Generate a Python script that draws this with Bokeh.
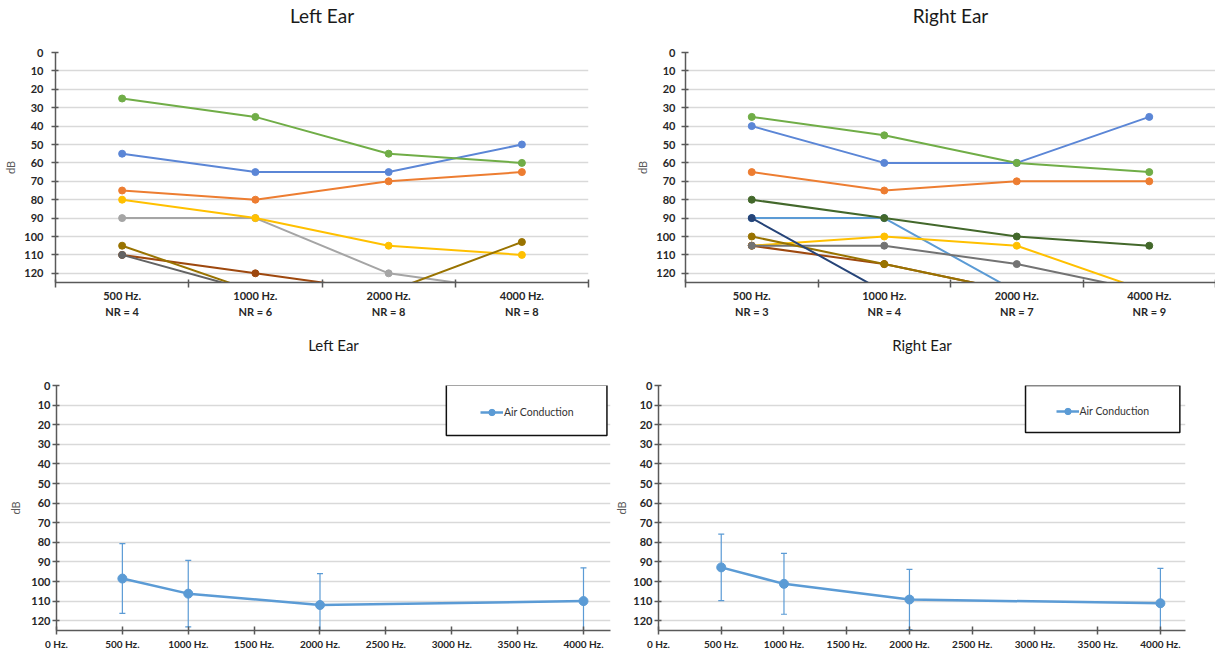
from bokeh.plotting import figure
from bokeh.layouts import column, row
from bokeh.models import Range1d, FixedTicker, BoxAnnotation, Legend, LegendItem
from bokeh.embed import file_html
from bokeh.resources import INLINE

FONT = "Lato"

# ---------------- data ----------------
freq_labels = ["500 Hz.", "1000 Hz.", "2000 Hz.", "4000 Hz."]
left_nr = [4, 6, 8, 8]
right_nr = [3, 4, 7, 9]

# thresholds in dB; 130 = no response (plotted below the visible range)
left_orange = [75, 80, 70, 65]
left_gray = [90, 90, 120, 130]
left_yellow = [80, 90, 105, 110]
left_blue = [55, 65, 65, 50]
left_green = [25, 35, 55, 60]
left_brown = [110, 120, 130, 130]
left_darkgray = [110, 130, 130, 130]
left_darkyellow = [105, 130, 130, 103]

right_lightblue = [90, 90, 130, 130]
right_orange = [65, 75, 70, 70]
right_yellow = [105, 100, 105, 130]
right_blue = [40, 60, 60, 35]
right_green = [35, 45, 60, 65]
right_brown = [105, 115, 130, 130]
right_gray = [105, 105, 115, 130]
right_darkyellow = [100, 115, 130, 130]
right_navy = [90, 130, 130, 130]
right_darkgreen = [80, 90, 100, 105]

hz = [500, 1000, 2000, 4000]
left_air = [98.5, 106.2, 112.0, 110.0]
left_air_err = [17.8, 17.0, 16.0, 17.0]
right_air = [92.8, 101.2, 109.2, 111.1]
right_air_err = [17.0, 15.5, 15.4, 17.8]

x_tick_hz = list(range(0, 4001, 500))
y_ticks = list(range(0, 121, 10))

LBLUE = "#5B9BD5"
ORANGE = "#ED7D31"
GRAY = "#A5A5A5"
YELLOW = "#FFC000"
BLUE = "#5B86D6"
GREEN = "#70AD47"
BROWN = "#9E480E"
DGRAY = "#636363"
DYELLOW = "#997300"
NAVY = "#264478"
DGREEN = "#43682B"
MGRAY = "#737373"

left_series = [(ORANGE, left_orange), (GRAY, left_gray), (YELLOW, left_yellow),
               (BLUE, left_blue), (GREEN, left_green), (BROWN, left_brown),
               (DGRAY, left_darkgray), (DYELLOW, left_darkyellow)]
right_series = [(LBLUE, right_lightblue), (ORANGE, right_orange), (YELLOW, right_yellow),
                (BLUE, right_blue), (GREEN, right_green), (BROWN, right_brown),
                (MGRAY, right_gray), (DYELLOW, right_darkyellow), (NAVY, right_navy),
                (DGREEN, right_darkgreen)]

TEXT = "#262626"
AXIS = "#595959"
GRID = "#D9D9D9"
TITLE_COLOR = "#1A1A1A"


def style_y(p, label_standoff, axis_standoff):
    ax = p.yaxis[0]
    ax.ticker = FixedTicker(ticks=y_ticks)
    ax.axis_label = "dB"
    ax.axis_label_text_font = FONT
    ax.axis_label_text_font_size = "11px"
    ax.axis_label_text_font_style = "normal"
    ax.axis_label_text_color = AXIS
    ax.axis_label_standoff = axis_standoff
    ax.major_label_text_font = FONT
    ax.major_label_text_font_size = "11px"
    ax.major_label_text_font_style = "bold"
    ax.major_label_text_color = TEXT
    ax.major_label_standoff = label_standoff
    ax.axis_line_color = AXIS
    ax.axis_line_width = 1.5
    ax.major_tick_line_color = AXIS
    ax.major_tick_line_width = 1.5
    ax.major_tick_in = 3
    ax.major_tick_out = 4
    ax.minor_tick_line_color = None
    p.ygrid.grid_line_color = GRID
    p.ygrid.grid_line_width = 1.5
    p.xgrid.visible = False


def set_title(p, text, size, line_height, standoff):
    # a blank second line lifts the title away from the plot area
    p.title.text = text + "\n "
    p.title.align = "center"
    p.title.text_font = FONT
    p.title.text_font_size = size
    p.title.text_font_style = "normal"
    p.title.text_color = TITLE_COLOR
    p.title.text_line_height = line_height
    p.title.standoff = standoff


def top_chart(title, series, nr, fw, bl, br, lab_so, ax_so):
    fh = 230
    p = figure(frame_width=fw, frame_height=fh, x_range=Range1d(0, 4), y_range=Range1d(125, 0),
               output_backend="svg", toolbar_location=None,
               min_border_left=bl, min_border_right=br, min_border_top=52, min_border_bottom=41)
    p.outline_line_color = None
    set_title(p, title, "19px", 1.1, 0)
    xs = [i + 0.5 for i in range(len(freq_labels))]
    for color, ys in series:
        p.line(xs, ys, line_color=color, line_width=2)
        p.scatter(xs, ys, size=7, fill_color=color, line_color=color)
    ax = p.xaxis[0]
    ax.ticker = FixedTicker(ticks=xs, minor_ticks=list(range(len(freq_labels) + 1)))
    ax.major_label_overrides = {x: f"{f}\nNR = {n}" for x, f, n in zip(xs, freq_labels, nr)}
    ax.major_label_text_font = FONT
    ax.major_label_text_font_size = "11px"
    ax.major_label_text_font_style = "bold"
    ax.major_label_text_color = TEXT
    ax.major_label_text_line_height = 1.3
    ax.major_label_standoff = 0
    ax.major_tick_line_color = None
    ax.minor_tick_line_color = AXIS
    ax.minor_tick_line_width = 1.5
    ax.minor_tick_in = 3
    ax.minor_tick_out = 5
    ax.axis_line_color = AXIS
    ax.axis_line_width = 1.5
    style_y(p, lab_so, ax_so)
    return p


def bottom_chart(title, ys, err, fw, bl, br, x_end, ax_so, box_x, box_y, leg_x):
    fh = 245
    p = figure(frame_width=fw, frame_height=fh, x_range=Range1d(0, x_end), y_range=Range1d(125, 0),
               output_backend="svg", toolbar_location=None,
               min_border_left=bl, min_border_right=br, min_border_top=62, min_border_bottom=22)
    p.outline_line_color = None
    set_title(p, title, "15px", 1.5, 10)
    upper = [y - e for y, e in zip(ys, err)]
    lower = [y + e for y, e in zip(ys, err)]
    p.segment(hz, upper, hz, lower, line_color=LBLUE, line_width=1.2)
    p.scatter(hz, upper, marker="dash", size=6, line_color=LBLUE, line_width=1.2)
    p.scatter(hz, lower, marker="dash", size=6, line_color=LBLUE, line_width=1.2)
    r_line = p.line(hz, ys, line_color=LBLUE, line_width=2.5)
    r_pt = p.scatter(hz, ys, size=9, fill_color=LBLUE, line_color=LBLUE)

    ax = p.xaxis[0]
    ax.ticker = FixedTicker(ticks=x_tick_hz)
    ax.major_label_overrides = {t: f"{t} Hz." for t in x_tick_hz}
    ax.major_label_text_font = FONT
    ax.major_label_text_font_size = "10px"
    ax.major_label_text_font_style = "bold"
    ax.major_label_text_color = TEXT
    ax.major_label_standoff = 3
    ax.major_tick_line_color = AXIS
    ax.major_tick_line_width = 1.5
    ax.major_tick_in = 4
    ax.major_tick_out = 4
    ax.minor_tick_line_color = None
    ax.axis_line_color = AXIS
    ax.axis_line_width = 1.5
    style_y(p, 2, ax_so)

    box = BoxAnnotation(left=box_x[0], right=box_x[1], top=box_y[0], bottom=box_y[1],
                        fill_color="white", fill_alpha=1.0, line_color="#111111",
                        line_width=1.5, line_alpha=1.0)
    p.add_layout(box)
    item_y_px = fh - (box_y[0] + box_y[1]) / 2 / 125 * fh
    legend = Legend(items=[LegendItem(label="Air Conduction", renderers=[r_line, r_pt])],
                    location=(leg_x / x_end * fw - 2, item_y_px - 10),
                    padding=2, margin=0, spacing=0,
                    glyph_width=23, glyph_height=16, label_height=16, label_standoff=1,
                    border_line_color=None, background_fill_alpha=0,
                    label_text_font=FONT, label_text_font_size="10.5px",
                    label_text_color="#333333")
    p.add_layout(legend)
    return p


p1 = top_chart("Left Ear", left_series, left_nr, 533, 55, 32, 8, 4)
p2 = top_chart("Right Ear", right_series, right_nr, 530, 65, 0, 6, 4)
p3 = bottom_chart("Left Ear", left_air, left_air_err, 554, 56, 2, 4205, 6,
                  (2959, 4178), (-0.3, 25.5), 3233)
p4 = bottom_chart("Right Ear", right_air, right_air_err, 527, 44, 32, 4200, 2,
                  (2925, 4155), (0, 24), 3184)

layout = column(row(p1, p2, spacing=0), row(p3, p4, spacing=0), spacing=0)
open("out.html", "w").write(file_html(layout, INLINE))
